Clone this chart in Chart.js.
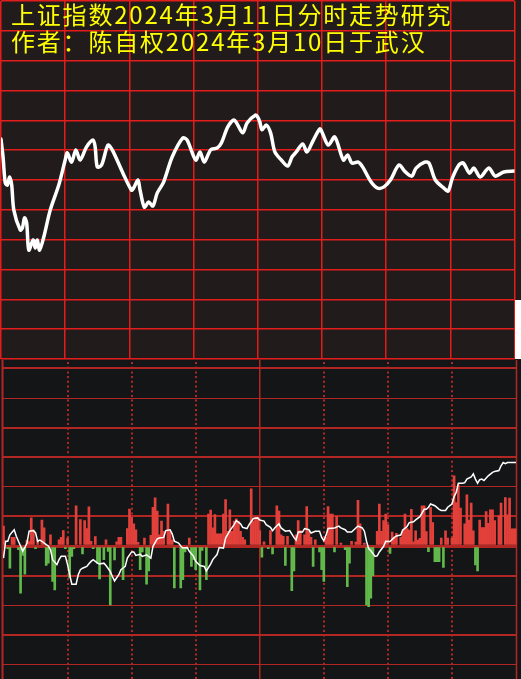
<!DOCTYPE html>
<html>
<head>
<meta charset="utf-8">
<script src="https://cdn.jsdelivr.net/npm/chart.js@4.4.1/dist/chart.umd.min.js"></script>
<style>
  body { margin: 0; background: #141517; }
  #wrap { position: relative; width: 521px; height: 679px; overflow: hidden; }
  #topChart { position: absolute; left: 0; top: 0; background: #211c1b; }
  #botChart { position: absolute; left: 0; top: 360px; background: #141517; }
  #title {
    position: absolute; left: 11px; top: 0;
    font-family: "Noto Sans CJK SC", sans-serif; font-size: 24px;
    line-height: 27px; letter-spacing: 1.8px; color: #ffff00; white-space: pre;
  }
  #corner { position: absolute; left: 515px; top: 300px; width: 6px; height: 59px; background: #fff; }
</style>
</head>
<body>
<div id="wrap">
  <canvas id="topChart" width="521" height="360"></canvas>
  <canvas id="botChart" width="521" height="319"></canvas>
  <div id="corner"></div>
  <div id="title">上证指数2024年3月11日分时走势研究
作者：陈自权2024年3月10日于武汉</div>
</div>
<script>
// 分时走势（上图），单位：格
const topMinutes = [0, 1, 2, 3, 4, 5, 6, 9, 10, 11, 12, 13, 15, 16, 17, 18, 20, 23, 27, 30, 31, 33, 35, 37, 40, 43, 44, 45, 47, 50,
  52, 57, 61, 62, 64, 65, 67, 69, 71, 73, 76, 80, 85, 87, 91, 93, 95, 98, 101, 103, 106, 109, 113, 115, 119, 120,
  121, 122, 124, 126, 128, 131, 134, 136, 138, 141, 143, 146, 149, 150, 153, 156, 160, 162, 164, 167, 169, 173,
  176, 179, 182, 186, 189, 192, 194, 198, 200, 203, 207, 209, 211, 214, 216, 219, 221, 224, 228, 231, 235, 240];
const topValues = [1.37, 0.74, -0.10, -0.17, 0.10, -0.17, -1.01, -1.68, -1.61, -1.27, -1.44, -2.35, -2.01, -2.28, -2.01, -2.35,
  -1.91, -1.01, -0.17, 0.67, 0.91, 0.60, 1.01, 0.67, 1.11, 1.34, 1.11, 0.44, 0.50, 1.17,
  1.01, 0.23, -0.34, -0.27, 0.00, -0.34, -0.91, -0.74, -0.87, -0.44, -0.07, 0.77, 1.41, 1.34, 0.67, 0.94, 0.60, 1.01,
  1.07, 1.24, 1.78, 2.01, 1.58, 1.91, 2.18, 2.11,
  1.94, 1.68, 1.84, 1.58, 0.94, 0.67, 0.47, 0.77, 0.94, 1.21, 0.94, 1.34, 1.71, 1.61, 1.17, 1.44, 0.67, 0.84, 0.57,
  0.60, 0.44, -0.07, -0.27, -0.23, 0.00, 0.50, 0.27, 0.13, 0.40, 0.60, 0.57, 0.00, -0.27, -0.37, 0.07, 0.50, 0.57,
  0.23, 0.40, 0.10, 0.40, 0.13, 0.27, 0.30];

// 下图：每分钟红绿柱
const barMinutes = [0, 2, 3, 4, 5, 7, 8, 9, 10, 11, 12, 13, 14, 15, 16, 18, 19, 20, 21, 22, 23, 24, 26, 27, 28, 29,
  30, 31, 32, 33, 34, 36, 37, 38, 39, 40, 41, 42, 43, 44, 45, 47, 48, 49, 50, 52, 53, 54, 55, 56, 58, 59,
  60, 61, 62, 63, 64, 65, 66, 67, 68, 69, 70, 71, 72, 73, 74, 75, 77, 78, 79, 80, 83, 84, 85, 86, 87, 88, 89,
  90, 92, 93, 95, 96, 97, 98, 99, 100, 101, 102, 103, 104, 105, 106, 107, 108, 109, 110, 111, 112, 113, 116, 117, 118, 119,
  120, 121, 122, 124, 125, 126, 128, 129, 130, 131, 132, 133, 135, 136, 137, 138, 139, 141, 142, 143, 144, 145, 146, 148, 149,
  150, 151, 152, 153, 154, 155, 156, 158, 160, 161, 162, 163, 165, 166, 167, 169, 170, 171, 172, 173, 175, 176, 177, 178, 179,
  180, 181, 182, 183, 184, 186, 187, 188, 189, 190, 191, 192, 193, 194, 195, 196, 197, 198, 199, 200, 201, 202, 203, 204, 205,
  206, 207, 208, 210, 211, 212, 213, 214, 216, 217, 218, 219, 220, 221, 222, 223, 224, 225, 226, 227, 228, 229, 230, 232, 233,
  235, 236, 237, 238, 239, 240];
const barValues = [0.67, -0.09, -0.75, 0.29, 0.29, -0.12, -1.59, -0.32, -0.95, 0.2, 0.16, 0.95, 0.55, -0.09, 0.2, 0.88, 0.61,
  -0.66, -0.58, 0.38, -1.2, -1.48, 0.21, 0.29, 0.52, -0.09,
  0.27, -1.08, -0.35, -0.09, 1.36, 0.89, -0.27, 0.86, 0.59, 1.32, 0.16, -0.09, 0.32, -0.58, -1.11, -0.46, 0.21, -0.18, -1.99,
  -0.47, 0.14, 0.29, 0.29, -1.14, 0.59, 1.25,
  0.97, 0.75, 0.55, 0.12, -0.8, -0.2, 0.27, -1.29, -0.84, 0.36, 1.31, 1.63, 1.18, 0.38, 0.84, 0.5, 1.42, 0.5, 0.21, -1.42,
  -1.42, -1.14, -0.2, -0.1, 0.27, -0.69, -0.46,
  -0.8, -1.48, -0.15, -1.14, 1.08, 1.21, 0.61, 1.06, 0.41, 0.41, 0.41, 1.08, 1.57, 0.5, 1.22, 0.5, 0.84, 0.92, 0.84, 0.5,
  0.29, 0.21, 1.93, 0.84, 0.97, 0.97,
  0.52, -0.38, 0.14, -0.09, 0.52, -0.27, 1.36, 1.18, 0.38, 0.33, -0.66, 0.33, -1.51, -0.84, 0.38, 0.86, 0.52, 0.38, 1.33,
  0.5, 0.29, -0.69, 0.21, -0.2, -0.8,
  -1.2, 0.29, 1.33, 1.08, 1.08, -0.2, 1.0, 0.1, -0.12, -1.37, -0.58, 0.16, 0.13, 1.54, 0.75, 0.1, -1.99, -2.05, -1.76, -1.0,
  0.5, 1.42, 0.5, 0.86, 1.08,
  0.72, -0.25, 0.47, 0.29, 0.43, 0.29, 0.54, 1.08, 0.59, 0.54, 1.24, 0.14, 0.51, 0.2, 0.26, 1.36, 1.36, 0.49, -0.19, 1.31,
  0.79, -0.53, -0.53, -0.53, 0.27,
  -0.72, 0.51, 0.27, 0.27, 2.37, 1.47, 2.07, 1.28, 0.75, 1.73, 0.88, 1.45, 0.51, -0.64, -0.84, 0.88, 0.62, 0.62, 1.16, 0.77,
  1.22, 1.22, 0.86, 1.02, 1.45,
  1.64, 1.05, 1.62, 0.58, 0.58, 0.58];

// 下图白线
const lineMinutes = [0, 1, 2, 3, 5, 6, 7, 8, 9, 10, 11, 12, 14, 15, 16, 17, 18, 20, 21, 22, 23, 25, 26, 27, 29,
  30, 31, 32, 34, 35, 36, 37, 39, 40, 41, 42, 44, 45, 47, 48, 50, 51, 52, 54, 55, 57, 58,
  60, 61, 62, 64, 65, 67, 69, 70, 72, 73, 75, 76, 78, 79, 80, 82, 83, 84, 86, 87, 89,
  90, 92, 94, 95, 97, 98, 100, 101, 103, 104, 106, 108, 109, 111, 112, 114, 115, 117, 119,
  120, 122, 123, 125, 126, 127, 129, 130, 132, 134, 136, 137, 138, 140, 141, 143, 144, 146, 148, 149,
  150, 151, 152, 155, 157, 158, 160, 161, 163, 165, 166, 168, 169, 170, 171, 172, 174, 175, 176, 178, 179,
  181, 183, 184, 186, 187, 189, 190, 192, 193, 195, 197, 198, 199, 200, 202, 204, 205, 207, 208,
  210, 211, 212, 213, 215, 216, 217, 219, 220, 221, 222, 223, 224, 225, 227, 229, 230, 232, 233, 234, 235, 236, 238, 240];
const lineValues = [-0.41, 0.16, 0.16, 0.38, 0.55, 0.33, 0.16, 0, -0.18, -0.05, 0.1, 0.5, 0.52, 0.45, 0.16, 0.2, 0.16, 0.05,
  0, -0.12, -0.46, -0.63, -0.46, -0.35, -0.35,
  -0.63, -0.97, -1.29, -1.29, -0.97, -0.8, -0.75, -0.69, -0.6, -0.52, -0.46, -0.58, -0.61, -0.58, -0.66, -0.86, -1.03, -1.18,
  -0.97, -0.8, -0.69, -0.41,
  -0.2, -0.2, -0.32, -0.28, -0.35, -0.3, -0.41, -0.01, 0.24, 0.27, 0.29, 0.52, 0.55, 0.41, 0.16, 0.1, 0, -0.07, -0.05, -0.18, -0.35,
  -0.52, -0.66, -0.69, -0.84, -0.61, -0.46, -0.29, -0.05, -0.07, 0.27, 0.52, 0.72, 0.86, 0.75, 0.63, 0.59, 0.72, 0.93, 0.95,
  0.88, 0.84, 0.72, 0.63, 0.52, 0.61, 0.75, 0.61, 0.5, 0.52, 0.29, 0.2, 0.47, 0.47, 0.59, 0.55, 0.44, 0.5, 0.5, 0.29,
  0.18, 0.36, 0.59, 0.61, 0.67, 0.61, 0.55, 0.47, 0.47, 0.61, 0.67, 0.61, 0.5, 0.16, -0.09, -0.16, -0.35, -0.33, -0.2, -0.01, 0.16,
  0.15, 0.29, 0.34, 0.37, 0.54, 0.66, 0.79, 0.82, 0.88, 0.99, 1.24, 1.24, 1.31, 1.42, 1.36, 1.24, 1.2, 1.2, 1.31,
  1.42, 1.67, 1.81, 2.12, 2.12, 2.14, 2.26, 2.33, 2.44, 2.26, 2.12, 2.24, 2.26, 2.21, 2.37, 2.49, 2.52, 2.55, 2.71, 2.82, 2.78,
  2.82, 2.82, 2.82];

// 网格位置（分钟）
const topGridMinutes = [0, 30, 60, 90, 120, 150, 180, 210, 240];
const botGridValues = [-4, -3, -2, -1, 0, 1, 2, 3, 4, 5, 6];
const botDotMinutes = [30, 60, 90, 150, 180, 210];
const botSolidMinutes = [120];

const TOP_GRID = '#e31c1c';
const BOT_GRID = '#b22724';
const RED = '#e2403a';
const GREEN = '#62b84a';

function toPoints(xs, ys) {
  return xs.map((x, i) => ({ x: x, y: ys[i] }));
}

// 上图
new Chart(document.getElementById('topChart'), {
  type: 'line',
  data: {
    datasets: [{
      data: toPoints(topMinutes, topValues),
      borderColor: '#ffffff',
      borderWidth: 3.5,
      pointRadius: 0,
      tension: 0.3,
      borderJoinStyle: 'round',
      borderCapStyle: 'round'
    }]
  },
  options: {
    responsive: false,
    animation: false,
    layout: { padding: { left: 1, top: 1, right: 6.5, bottom: 1 } },
    plugins: { legend: { display: false }, tooltip: { enabled: false } },
    scales: {
      x: {
        type: 'linear', min: 0, max: 240,
        afterBuildTicks: a => { a.ticks = topGridMinutes.map(v => ({ value: v })); },
        afterFit: s => { s.height = 0; },
        ticks: { display: false },
        grid: { color: TOP_GRID, lineWidth: 1.5, drawTicks: false },
        border: { display: false }
      },
      y: {
        min: -6, max: 6,
        ticks: { display: false, stepSize: 1 },
        afterFit: s => { s.width = 0; },
        grid: { color: TOP_GRID, lineWidth: 1.5, drawTicks: false },
        border: { display: false }
      }
    }
  }
});

// 下图竖线（点线 + 实线 + 边框）
const verticalLines = {
  id: 'verticalLines',
  beforeDatasetsDraw(chart) {
    const ctx = chart.ctx;
    const area = chart.chartArea;
    const xs = chart.scales.x;
    ctx.save();
    ctx.strokeStyle = BOT_GRID;
    ctx.lineWidth = 2;
    ctx.setLineDash([2, 2.7]);
    botDotMinutes.forEach(m => {
      const px = Math.round(xs.getPixelForValue(m));
      ctx.beginPath();
      ctx.moveTo(px, area.top + 2);
      ctx.lineTo(px, area.bottom);
      ctx.stroke();
    });
    ctx.setLineDash([]);
    ctx.lineWidth = 1.5;
    botSolidMinutes.forEach(m => {
      const px = xs.getPixelForValue(m);
      ctx.beginPath();
      ctx.moveTo(px, area.top);
      ctx.lineTo(px, area.bottom);
      ctx.stroke();
    });
    ctx.lineWidth = 2;
    ctx.beginPath();
    ctx.moveTo(area.left - 0.5, area.top);
    ctx.lineTo(area.left - 0.5, area.bottom);
    ctx.stroke();
    ctx.lineWidth = 1.5;
    ctx.beginPath();
    ctx.moveTo(area.right, area.top);
    ctx.lineTo(area.right, area.bottom);
    ctx.stroke();
    ctx.restore();
  }
};

const gridWidths = { '6': 2, '5': 1, '4': 2, '3': 2, '2': 1, '1': 2, '0': 3, '-1': 2, '-2': 1, '-3': 2, '-4': 1 };

// 下图
new Chart(document.getElementById('botChart'), {
  type: 'bar',
  data: {
    datasets: [{
      type: 'line',
      data: toPoints(lineMinutes, lineValues),
      borderColor: '#ffffff',
      borderWidth: 1.5,
      pointRadius: 0,
      tension: 0
    }, {
      type: 'bar',
      data: toPoints(barMinutes, barValues),
      backgroundColor: c => (c.raw && c.raw.y >= 0 ? RED : GREEN),
      barThickness: 2,
      borderWidth: 0
    }]
  },
  options: {
    responsive: false,
    animation: false,
    layout: { padding: { left: 3, top: 0, right: 4.5, bottom: 0 } },
    plugins: { legend: { display: false }, tooltip: { enabled: false } },
    scales: {
      x: {
        type: 'linear', min: -0.23, max: 240.23, offset: false,
        afterFit: s => { s.height = 0; },
        ticks: { display: false },
        grid: { display: false },
        border: { display: false }
      },
      y: {
        min: -4.493, max: 6.284,
        afterBuildTicks: a => { a.ticks = botGridValues.map(v => ({ value: v })); },
        afterFit: s => { s.width = 0; },
        ticks: { display: false },
        grid: {
          color: BOT_GRID,
          lineWidth: c => (c.tick ? gridWidths[String(c.tick.value)] || 1 : 1),
          drawTicks: false
        },
        border: { display: false }
      }
    }
  },
  plugins: [verticalLines]
});
</script>
</body>
</html>
